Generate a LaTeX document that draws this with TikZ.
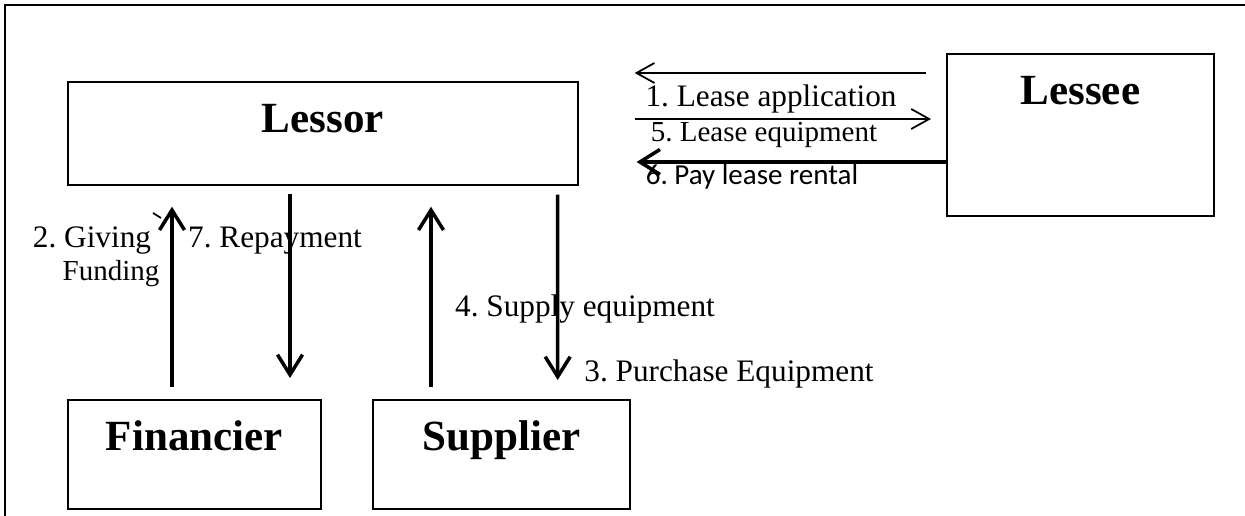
\documentclass[tikz,border=0pt]{standalone}
\usepackage{fontspec}
\setmainfont{Liberation Serif}
\newfontfamily\calibrifont{Carlito}
\usetikzlibrary{arrows.meta,positioning,calc}
\frenchspacing

\begin{document}
\begin{tikzpicture}[
    x=0.02cm,y=0.02cm,
    party/.style={draw,line width=1pt,inner xsep=0pt,inner ysep=0pt,anchor=north west,
      text height=1.02cm,font=\fontsize{24.5}{28}\selectfont\bfseries},
    thinflow/.style={line width=1pt,-{Straight Barb[length=0.36cm,width=0.4cm]}},
    thickflow/.style={line width=2pt,-{Straight Barb[length=0.4cm,width=0.5cm]}},
    lbl/.style={anchor=base,inner sep=0pt,font=\fontsize{17.8}{20}\selectfont},
    smalllbl/.style={lbl,font=\fontsize{16.5}{19}\selectfont},
  ]
  \useasboundingbox (0,0) rectangle (1245,516);
  \draw[line width=1.5pt] (5,0) -- (5,511) -- (1245,511);

  % parties
  \node[party,minimum width=10.2cm,text depth=1.04cm] (lessor) at (67,435) {Lessor};
  \node[party,minimum width=5.34cm,text depth=2.22cm] (lessee) at (946,463) {Lessee};
  \node[party,minimum width=5.06cm,text depth=1.16cm] (financier) at (67,117) {Financier};
  \node[party,minimum width=5.14cm,text depth=1.16cm] (supplier) at (372,117) {Supplier};

  % lessee side
  \draw[thinflow] ($(lessee.north west)+(-20,-20)$) -- ($(lessor.north east)+(56,8)$);
  \draw[thinflow] ($(lessor.north east)+(56,-38)$) -- ($(lessee.north west)+(-15,-66)$);
  \draw[thickflow] ($(lessee.north west)+(0,-109)$) -- ($(lessor.north east)+(58,-81)$);
  \node[lbl] (lapp) at (771,409) {1. Lease application};
  \node[smalllbl] (lequip) at (764,374) {5. Lease equipment};
  \node[lbl,font=\calibrifont\fontsize{16.5}{19}\selectfont] (lrent) at (752,331) {6. Pay lease rental};

  % financier and supplier side
  \draw[thickflow] ($(financier.north west)+(105,12)$) -- ($(lessor.south west)+(105,-21)$);
  \draw[thickflow] ($(lessor.south west)+(223,-8)$) -- ($(financier.north west)+(223,21)$);
  \draw[thickflow] ($(supplier.north west)+(59,12)$) -- ($(lessor.south west)+(364,-21)$);
  \draw[thickflow] ($(lessor.south east)+(-21,-9)$) -- ($(supplier.north east)+(-73,19)$);
  \draw[line width=1pt] (153,303) -- (161,298);
  \node[lbl] (lgive) at (92,268) {2. Giving};
  \node[smalllbl] (lfund) at (111,235) {Funding};
  \node[lbl] (lrepay) at (275,268) {7. Repayment};
  \node[lbl] (lsupply) at (585,199) {4. Supply equipment};
  \node[lbl] (lbuy) at (729,134) {3. Purchase Equipment};
\end{tikzpicture}
\end{document}
